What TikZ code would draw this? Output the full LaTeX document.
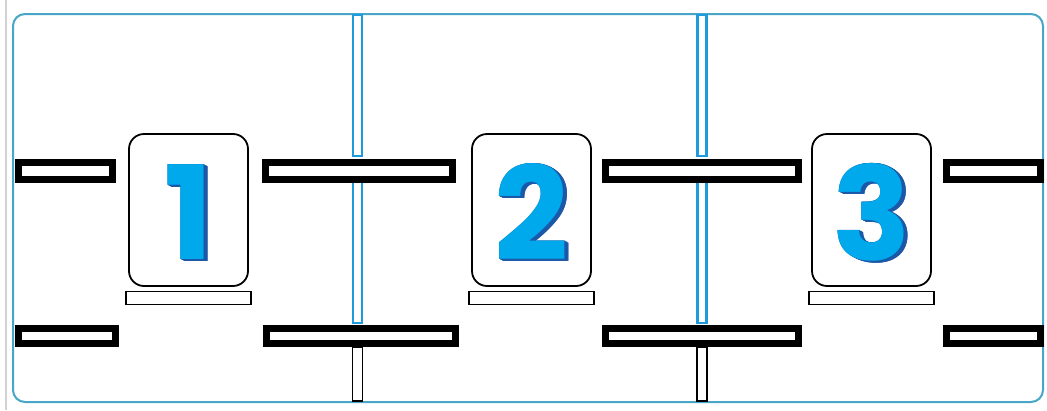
\documentclass[tikz,border=0pt]{standalone}
\usepackage{fontspec}
\usepackage{tikz}
\usetikzlibrary{positioning}
\newfontfamily\digitfont{Poppins}
\definecolor{framecol}{RGB}{72,166,200}
\definecolor{postblue}{RGB}{30,155,220}
\definecolor{digitfront}{RGB}{0,168,236}
\definecolor{digitdark}{RGB}{28,88,168}

\tikzset{
  frame/.style={draw=framecol, line width=2pt, rounded corners=12pt},
  rail/.style={draw=black, line width=7pt, fill=white},
  post/.style={draw=postblue, line width=2.4pt, fill=white},
  stub/.style={draw=black, line width=1.6pt, fill=white},
  numbox/.style={draw, line width=1.8pt, rounded corners=15pt, minimum width=119pt, minimum height=152pt, inner sep=0pt},
  plate/.style={draw, line width=1.5pt, fill=white, minimum width=125pt, minimum height=13pt, inner sep=0pt},
  digit/.style={font=\digitfont\bfseries\fontsize{130}{130}\selectfont, inner sep=0pt}
}

% digit with a darker extruded side
\newcommand\solidnum[1]{%
  \foreach \d in {0.5,1,...,4.5}{\rlap{\kern\d pt\raisebox{-0.5\dimexpr\d pt\relax}{\color{digitdark}#1}}}%
  \textcolor{digitfront}{#1}}

\begin{document}
\begin{tikzpicture}[x=1pt, y=-1pt]
   \fill[white] (0,0) rectangle (1047,410);
   \useasboundingbox (0,0) rectangle (1047,410);
   \draw[gray!35, line width=2pt] (6,0) -- (6,410);
   \draw[frame] (13,14) rectangle (1043,402);

   % posts between the rails
   \foreach \x in {357.5, 702} {
     \draw[post] (\x-4.6,15) rectangle (\x+4.6,156);
     \draw[post] (\x-4.6,182) rectangle (\x+4.6,323);
     \draw[stub] (\x-5,347) rectangle (\x+5,401);
   }

   % rails
   \draw[rail] (18.5,162.5) rectangle (112.5,179.5);
   \draw[rail] (18.5,328.5) rectangle (115.5,343.5);
   \draw[rail] (265.5,162.5) rectangle (452.5,179.5);
   \draw[rail] (266.5,328.5) rectangle (455.5,343.5);
   \draw[rail] (605.5,162.5) rectangle (798.5,179.5);
   \draw[rail] (605.5,328.5) rectangle (798.5,343.5);
   \draw[rail] (946.5,162.5) rectangle (1040.5,179.5);
   \draw[rail] (946.5,328.5) rectangle (1040.5,343.5);

   % numbered boxes
   \foreach \i/\x in {1/188.5, 2/531.5, 3/871.5} {
     \node[numbox] (box\i) at (\x,210) {};
     \node[plate, below=4pt of box\i] (plate\i) {};
     \node[digit] (num\i) at ([yshift=-3pt]box\i.center) {\solidnum{\i}};
   }
\end{tikzpicture}
\end{document}
